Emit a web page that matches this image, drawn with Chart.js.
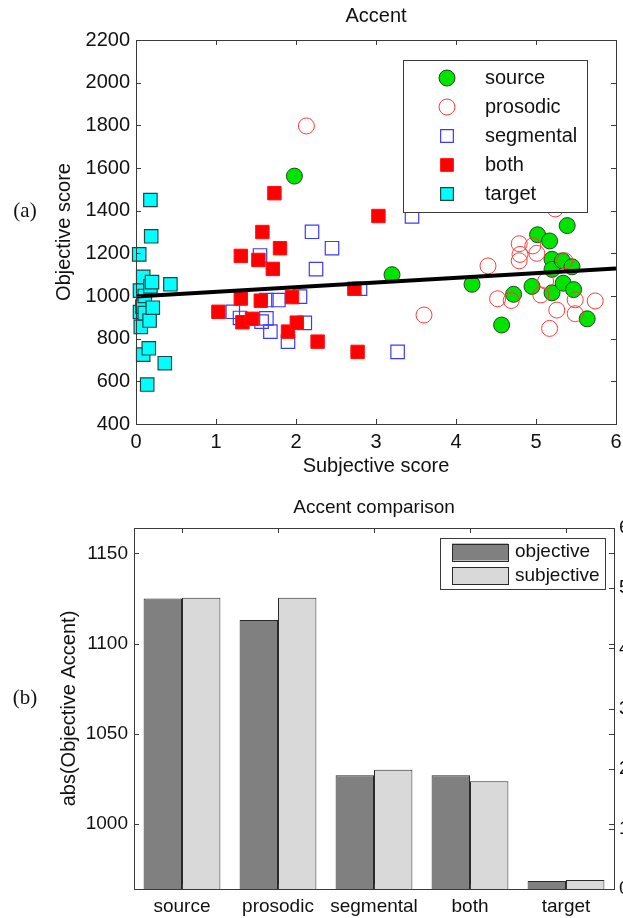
<!DOCTYPE html>
<html><head><meta charset="utf-8">
<script src="https://cdn.jsdelivr.net/npm/chart.js@4.4.1/dist/chart.umd.min.js"></script>
<style>
html,body{margin:0;padding:0;background:#fff;overflow:hidden;width:623px;height:918px;}
#wrap{position:relative;width:623px;height:918px;overflow:hidden;background:#fff;}
.t{position:absolute;font-family:"Liberation Sans",Arial,sans-serif;color:#111;white-space:nowrap;transform:translate(-50%,-50%);}
.p{position:absolute;font-family:"Liberation Serif","Times New Roman",serif;color:#111;white-space:nowrap;transform:translate(-50%,-50%);}
#c1{position:absolute;left:0;top:0;}
#c2{position:absolute;left:0;top:480px;}
</style></head>
<body><div id="wrap">
<canvas id="c1" width="623" height="480" style="width:623px;height:480px"></canvas>
<canvas id="c2" width="640" height="438" style="width:640px;height:438px"></canvas>
<div class="t" style="left:376px;top:15px;font-size:20px">Accent</div>
<div class="t" style="left:374px;top:507px;font-size:19px">Accent comparison</div>
<div class="p" style="left:25px;top:210px;font-size:21px">(a)</div>
<div class="p" style="left:25px;top:697px;font-size:21px">(b)</div>
</div>
<script>
// ---------- data: top scatter (subjective score, objective score) ----------
const sourceData = [[1.98,1562],[3.2,1100],[4.2,1055],[4.57,864],[4.72,1008],[4.95,1045],[5.02,1287],[5.17,1258],[5.2,1172],[5.2,1125],[5.2,1015],[5.33,1165],[5.34,1060],[5.39,1330],[5.45,1137],[5.47,1030],[5.64,893]];
const prosodicData = [[2.13,1797],[3.6,911],[4.4,1141],[4.52,987],[4.69,979],[4.79,1245],[4.8,1195],[4.79,1165],[4.96,1235],[5.01,1200],[5.06,1005],[5.12,1070],[5.17,848],[5.24,1408],[5.26,934],[5.36,1165],[5.49,982],[5.49,917],[5.74,977]];
const segmentalData = [[1.21,926],[1.3,897],[1.55,1190],[1.57,880],[1.63,981],[1.63,895],[1.68,833],[1.78,981],[1.9,786],[2.05,997],[2.11,874],[2.2,1301],[2.25,1126],[2.45,1224],[2.8,1034],[3.27,738],[3.45,1373]];
const bothData = [[1.03,926],[1.31,1188],[1.31,988],[1.33,877],[1.45,893],[1.53,1169],[1.56,978],[1.58,1300],[1.71,1127],[1.73,1482],[1.8,1224],[1.9,833],[1.95,995],[2.01,875],[2.27,786],[2.73,1034],[2.77,738],[3.03,1375]];
const targetData = [[0.04,1195],[0.05,1025],[0.05,925],[0.06,855],[0.08,950],[0.09,1090],[0.09,725],[0.11,1000],[0.11,920],[0.14,585],[0.16,755],[0.17,885],[0.18,1450],[0.18,1045],[0.19,1280],[0.2,1065],[0.21,945],[0.36,685],[0.43,1055]];
const fitLine = [[0,998],[6,1129]];
const scatterXTicks = [0,1,2,3,4,5,6];
const scatterYTicks = [400,600,800,1000,1200,1400,1600,1800,2000,2200];

// ---------- data: bottom bars ----------
const barCategories = ['source','prosodic','segmental','both','target'];
const objectiveValues = [1125, 1113, 1027, 1027, 968.5];
const subjectiveValues = [4.84, 4.84, 1.98, 1.79, 0.15];
const barLeftTicks = [1000,1050,1100,1150];
const barRightTicks = [0,1,2,3,4,5,6];

const F = '"Liberation Sans", Arial, Helvetica, sans-serif';
const INK = '#111';
const AX = '#3a3a3a';
const toXY = a => a.map(p => ({x:p[0], y:p[1]}));
const setTicks = vals => s => { s.ticks = vals.map(v => ({value:v})); };
const plain = v => String(v);
const fixW = w => s => { s.width = w; s.paddingTop = 0; s.paddingBottom = 0; s.paddingLeft = 0; s.paddingRight = 0; };
const fixH = h => s => { s.height = h; s.paddingTop = 0; s.paddingBottom = 0; s.paddingLeft = 0; s.paddingRight = 0; };

const boxTicks = {
  id:'boxTicks',
  afterDatasetsDraw(chart, args, o){
    const {ctx, chartArea:a} = chart;
    const L = o.len || 5;
    ctx.save();
    ctx.strokeStyle = AX; ctx.lineWidth = 1;
    ctx.beginPath();
    const xs = chart.scales[o.x];
    xs.ticks.forEach((t,i)=>{
      const x = Math.round(xs.getPixelForTick(i))+0.5;
      ctx.moveTo(x,a.top); ctx.lineTo(x,a.top+L);
      ctx.moveTo(x,a.bottom); ctx.lineTo(x,a.bottom-L);
    });
    (o.y||[]).forEach(spec=>{
      const s = chart.scales[spec.id];
      s.ticks.forEach((t,i)=>{
        const y = Math.round(s.getPixelForTick(i))+0.5;
        if (spec.left){ ctx.moveTo(a.left,y); ctx.lineTo(a.left+L,y); }
        if (spec.right){ ctx.moveTo(a.right,y); ctx.lineTo(a.right-L,y); }
      });
    });
    ctx.stroke();
    ctx.strokeRect(Math.round(a.left)+0.5, Math.round(a.top)+0.5, Math.round(a.right-a.left), Math.round(a.bottom-a.top));
    ctx.restore();
  }
};

const legendBox = {
  id:'legendBox',
  afterDraw(chart, args, o){
    const ctx = chart.ctx;
    ctx.save();
    ctx.fillStyle = '#fff'; ctx.fillRect(o.box[0], o.box[1], o.box[2], o.box[3]);
    ctx.strokeStyle = AX; ctx.lineWidth = 1;
    ctx.strokeRect(o.box[0]+0.5, o.box[1]+0.5, o.box[2], o.box[3]);
    ctx.font = o.size + 'px ' + F; ctx.textBaseline = 'middle'; ctx.textAlign = 'left';
    chart.data.datasets.filter(d => !d.noLegend).forEach((d,i)=>{
      const y = o.y0 + i*o.dy;
      if (o.kind === 'point'){
        ctx.fillStyle = d.backgroundColor; ctx.strokeStyle = d.borderColor; ctx.lineWidth = d.borderWidth;
        Chart.helpers.drawPoint(ctx, {pointStyle:d.pointStyle, radius:(d.legendRadius||d.pointRadius), borderWidth:d.borderWidth, rotation:0}, o.mx, y);
      } else {
        ctx.fillStyle = d.backgroundColor; ctx.strokeStyle = d.borderColor; ctx.lineWidth = 1;
        ctx.fillRect(o.mx, y - o.sh/2, o.sw, o.sh);
        ctx.strokeRect(o.mx+0.5, Math.round(y - o.sh/2)+0.5, o.sw, o.sh);
      }
      ctx.fillStyle = INK;
      ctx.fillText(d.label, o.tx, y);
    });
    ctx.restore();
  }
};

new Chart(document.getElementById('c1'), {
  type:'scatter',
  data:{datasets:[
    {label:'source', data:toXY(sourceData), pointStyle:'circle', pointRadius:8, legendRadius:8, backgroundColor:'#00e400', borderColor:'#1e4a1e', borderWidth:1, order:6, clip:false},
    {label:'prosodic', data:toXY(prosodicData), pointStyle:'circle', pointRadius:8, legendRadius:8, backgroundColor:'rgba(0,0,0,0)', borderColor:'#ff3b3b', borderWidth:1, order:5, clip:false},
    {label:'segmental', data:toXY(segmentalData), pointStyle:'rect', pointRadius:9.5, legendRadius:9, backgroundColor:'rgba(0,0,0,0)', borderColor:'#3b3bff', borderWidth:1.2, order:4, clip:false},
    {label:'both', data:toXY(bothData), pointStyle:'rect', pointRadius:9.5, legendRadius:9, backgroundColor:'#ff0000', borderColor:'#ff1010', borderWidth:1, order:3, clip:false},
    {label:'target', data:toXY(targetData), pointStyle:'rect', pointRadius:9.5, legendRadius:9, backgroundColor:'#00ffff', borderColor:'#204848', borderWidth:1.2, order:2, clip:false},
    {type:'line', label:'fit', noLegend:true, data:toXY(fitLine), borderColor:'#000', borderWidth:4, pointRadius:0, order:1, showLine:true, fill:false}
  ]},
  options:{
    responsive:false, animation:false, events:[],
    layout:{autoPadding:false, padding:{top:40,right:7,left:0,bottom:0}},
    plugins:{
      legend:{display:false}, tooltip:{enabled:false},
      boxTicks:{x:'x', y:[{id:'y', left:true, right:true}], len:5},
      legendBox:{kind:'point', box:[403,60,184,152], size:20, y0:78, dy:29, mx:447, tx:485}
    },
    scales:{
      x:{type:'linear', min:0, max:6, afterBuildTicks:setTicks(scatterXTicks), afterFit:fixH(56),
         grid:{display:false, drawTicks:false}, border:{display:false},
         ticks:{font:{family:F,size:20}, color:INK, padding:6, maxRotation:0, callback:plain},
         title:{display:true, text:'Subjective score', font:{family:F,size:20}, color:INK, padding:{top:0,bottom:2}}},
      y:{type:'linear', min:400, max:2200, afterBuildTicks:setTicks(scatterYTicks), afterFit:fixW(136),
         grid:{display:false, drawTicks:false}, border:{display:false},
         ticks:{font:{family:F,size:20}, color:INK, padding:6, callback:plain},
         title:{display:true, text:'Objective score', font:{family:F,size:20}, color:INK, padding:{top:52,bottom:0}}}
    }
  },
  plugins:[boxTicks, legendBox]
});

new Chart(document.getElementById('c2'), {
  type:'bar',
  data:{labels:barCategories, datasets:[
    {label:'objective', data:objectiveValues, yAxisID:'y', backgroundColor:'#808080', borderColor:'#2a2a2a', borderWidth:1},
    {label:'subjective', data:subjectiveValues, yAxisID:'y2', backgroundColor:'#d9d9d9', borderColor:'#2a2a2a', borderWidth:1}
  ]},
  options:{
    responsive:false, animation:false, events:[],
    layout:{autoPadding:false, padding:{top:48,right:0,left:0,bottom:0}},
    datasets:{bar:{categoryPercentage:0.8, barPercentage:1.0}},
    plugins:{
      legend:{display:false}, tooltip:{enabled:false},
      boxTicks:{x:'x', y:[{id:'y', left:true, right:true},{id:'y2', left:false, right:true}], len:5},
      legendBox:{kind:'bar', box:[440,58,165,51], size:19, y0:72, dy:23.5, mx:452, sw:56, sh:17, tx:515}
    },
    scales:{
      x:{afterFit:fixH(29), grid:{display:false, drawTicks:false}, border:{display:false},
         ticks:{font:{family:F,size:19}, color:INK, padding:6, maxRotation:0}},
      y:{position:'left', min:964, max:1164, afterBuildTicks:setTicks(barLeftTicks), afterFit:fixW(134),
         grid:{display:false, drawTicks:false}, border:{display:false},
         ticks:{font:{family:F,size:19}, color:INK, padding:6, callback:plain},
         title:{display:true, text:'abs(Objective Accent)', font:{family:F,size:20}, color:INK, padding:{top:57,bottom:0}}},
      y2:{position:'right', min:0, max:6, afterBuildTicks:setTicks(barRightTicks), afterFit:fixW(26),
         grid:{display:false, drawTicks:false}, border:{display:false},
         ticks:{font:{family:F,size:19}, color:INK, padding:5, callback:plain}}
    }
  },
  plugins:[boxTicks, legendBox]
});
</script>
</body></html>
